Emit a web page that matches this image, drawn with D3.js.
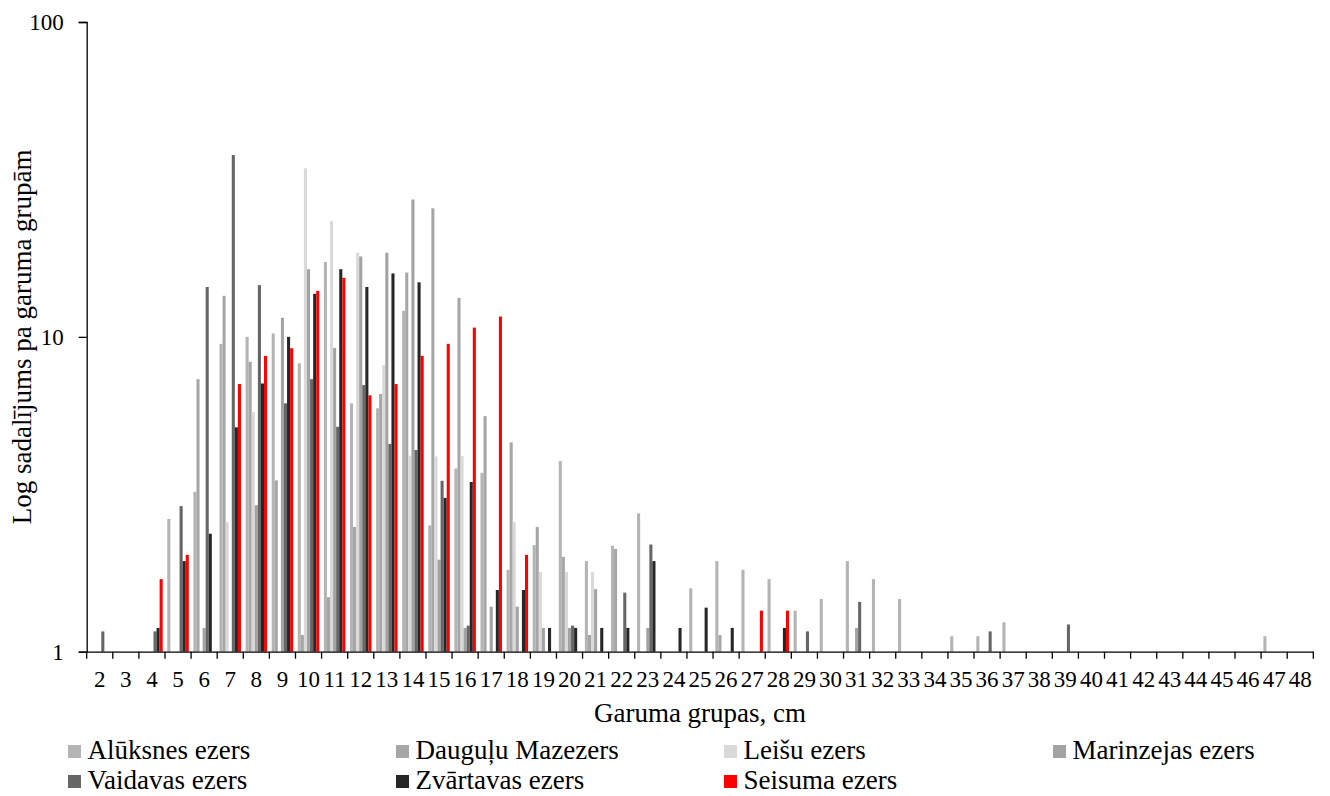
<!DOCTYPE html>
<html>
<head>
<meta charset="utf-8">
<script src="https://cdn.jsdelivr.net/npm/d3@7"></script>
<style>
  html, body { margin: 0; padding: 0; background: #ffffff; }
  svg { display: block; }
  text { font-family: "Liberation Serif", "Times New Roman", serif; fill: #000; }
</style>
</head>
<body>
<svg id="chart" width="1330" height="796"></svg>
<script>
// ---- Data ----
const categories = ["2","3","4","5","6","7","8","9","10","11","12","13","14","15","16","17","18","19","20","21","22","23","24","25","26","27","28","29","30","31","32","33","34","35","36","37","38","39","40","41","42","43","44","45","46","47","48"];
const seriesNames = ["Alūksnes ezers","Dauguļu Mazezers","Leišu ezers","Marinzejas ezers","Vaidavas ezers","Zvārtavas ezers","Seisuma ezers"];
const seriesColors = ["#b4b4b4","#a6a6a6","#d9d9d9","#a3a3a3","#666666","#262626","#ff0000"];
const yTicks = [1, 10, 100];

//                 2    3    4     5     6     7     8     9     10    11    12    13    14    15    16    17    18    19    20    21    22    23    24    25    26    27    28    29    30    31    32    33    34    35    36    37    38    39    40    41    42    43    44    45    46    47    48
const aluksnes   = [null,null,null,2.64, 3.22, 9.5,  10.0, 10.25,8.24, 17.3, 6.15, 5.93, 12.1, 2.52, 3.82, 3.70, 1.82, 2.18, 4.03, 1.94, 2.17, 2.75, null, 1.59, 1.94, 1.82, 1.70, 1.35, 1.47, 1.94, 1.70, 1.47, null, 1.12, 1.12, 1.24, null, null, null, null, null, null, null, null, null, 1.12, null];
const daugulu    = [null,null,null,null, 7.34, 13.5, 8.33, 3.5,  1.13, 1.49, 2.49, 6.58, 16.0, 25.6, 13.3, 5.60, 4.62, 2.49, 2.0,  1.13, 2.12, null, null, null, 1.13, null, null, null, null, null, null, null, null, null, null, null, null, null, null, null, null, null, null, null, null, null, null];
const leisu      = [null,null,null,null, null, 2.58, 5.78, null, 34.3, 23.3, 18.5, 8.13, 4.19, 4.17, 4.19, null, 2.58, 1.79, 1.79, 1.79, null, null, null, null, null, null, null, null, null, null, null, null, null, null, null, null, null, null, null, null, null, null, null, null, null, null, null];
const marinzejas = [null,null,null,null, 1.19, null, 2.92, 11.5, 16.4, 9.21, 18.0, 18.5, 27.3, 1.96, 1.19, 1.39, 1.39, 1.19, 1.19, 1.58, null, 1.19, null, null, null, null, null, null, null, 1.19, null, null, null, null, null, null, null, null, null, null, null, null, null, null, null, null, null];
const vaidavas   = [1.16,null,1.16,2.90, 14.4, 37.8, 14.6, 6.15, 7.34, 5.18, 7.03, 4.57, 4.37, 3.49, 1.21, null, null, null, 1.21, null, 1.54, 2.19, null, null, null, null, null, 1.16, null, 1.44, null, null, null, null, 1.16, null, null, 1.22, null, null, null, null, null, null, null, null, null];
const zvartavas  = [null,null,1.19,1.94, 2.37, 5.16, 7.11, 10.0, 13.7, 16.4, 14.4, 15.9, 14.9, 3.08, 3.46, 1.57, 1.57, 1.19, 1.19, 1.19, 1.19, 1.94, 1.19, 1.38, 1.19, null, 1.19, null, null, null, null, null, null, null, null, null, null, null, null, null, null, null, null, null, null, null, null];
const seisuma    = [null,null,1.70,2.03, null, 7.08, 8.7,  9.2,  14.0, 15.4, 6.52, 7.08, 8.7,  9.5,  10.7, 11.6, 2.03, null, null, null, null, null, null, null, null, 1.35, 1.35, null, null, null, null, null, null, null, null, null, null, null, null, null, null, null, null, null, null, null, null];

const seriesValues = [aluksnes, daugulu, leisu, marinzejas, vaidavas, zvartavas, seisuma];

// ---- Layout ----
const svg = d3.select("#chart");
const plot = { left: 86.7, right: 1313.3, top: 22, bottom: 651.7 };

const x0 = d3.scaleBand().domain(categories).range([plot.left, plot.right]).paddingInner(0).paddingOuter(0);
const bw = x0.bandwidth();
const gap = bw * 0.176 / 2;
const x1 = d3.scaleBand().domain(seriesNames).range([gap, bw - gap]).padding(0);
const y = d3.scaleLog().domain([1, 100]).range([plot.bottom, plot.top]);

// ---- Bars ----
const rows = [];
seriesNames.forEach((name, si) => {
  categories.forEach((c, ci) => {
    const v = seriesValues[si][ci];
    if (v != null && v > 1) rows.push({ name, c, v, color: seriesColors[si] });
  });
});

svg.append("g").selectAll("rect").data(rows).join("rect")
  .attr("x", d => x0(d.c) + x1(d.name))
  .attr("width", x1.bandwidth())
  .attr("y", d => y(d.v))
  .attr("height", d => y(1) - y(d.v))
  .attr("fill", d => d.color);

// ---- Y axis ----
const yAxis = d3.axisLeft(y).tickValues(yTicks).tickFormat(d3.format("d")).tickSize(8).tickPadding(15);
const gy = svg.append("g").attr("transform", `translate(${plot.left},0)`).call(yAxis);
gy.select(".domain").attr("stroke", "#000").attr("stroke-width", 1.3);
gy.selectAll(".tick line").attr("stroke", "#000").attr("stroke-width", 1.3);
gy.selectAll(".tick text").style("font-size", "23px").style("font-family", "Liberation Serif").attr("fill", "#000");

// ---- X axis ----
const xAxis = d3.axisBottom(x0).tickSize(0).tickSizeOuter(0);
const gx = svg.append("g").attr("transform", `translate(0,${plot.bottom})`).call(xAxis);
gx.select(".domain").attr("stroke", "#000").attr("stroke-width", 1.3);
gx.selectAll(".tick text").style("font-size", "23px").style("font-family", "Liberation Serif")
  .attr("fill", "#000").attr("dy", 0).attr("y", 35);
// boundary tick marks
const bounds = categories.map(c => x0(c)).concat([x0(categories[categories.length - 1]) + bw]);
gx.selectAll("line.bound").data(bounds).join("line").attr("class", "bound")
  .attr("x1", d => d).attr("x2", d => d).attr("y1", 0).attr("y2", 7)
  .attr("stroke", "#000").attr("stroke-width", 1.3);

// ---- Axis titles ----
svg.append("text").attr("x", (plot.left + plot.right) / 2).attr("y", 722)
  .attr("text-anchor", "middle").style("font-size", "27px").text("Garuma grupas, cm");
svg.append("text").attr("transform", `translate(31,${(plot.top + plot.bottom) / 2}) rotate(-90)`)
  .attr("text-anchor", "middle").style("font-size", "27px").text("Log sadalījums pa garuma grupām");

// ---- Legend ----
const legendCols = [68, 396, 724, 1053];
const legendRows = [759, 789];
const legend = svg.append("g");
seriesNames.forEach((name, i) => {
  const col = i % 4, row = Math.floor(i / 4);
  const lx = legendCols[col], ly = legendRows[row];
  const g = legend.append("g");
  g.append("rect").attr("x", lx).attr("y", ly - 14).attr("width", 13).attr("height", 13).attr("fill", seriesColors[i]);
  g.append("text").attr("x", lx + 19.5).attr("y", ly).style("font-size", "27px").text(name);
});
</script>
</body>
</html>
